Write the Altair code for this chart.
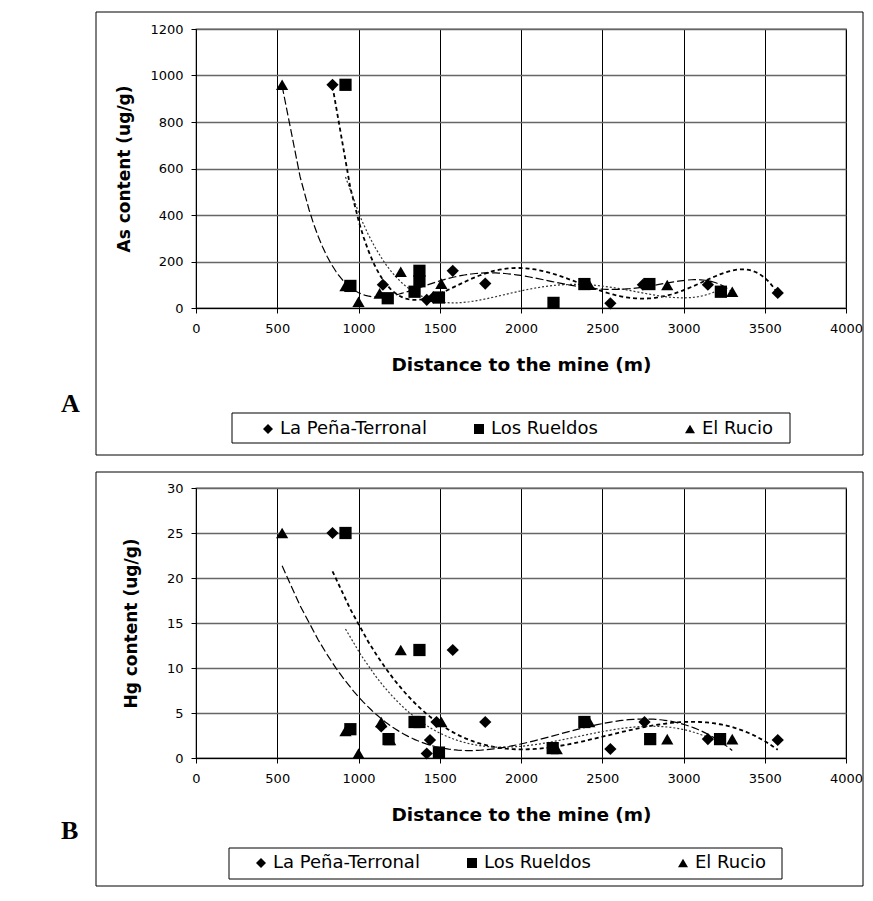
import altair as alt
import pandas as pd

SERIES = ["La Peña-Terronal", "Los Rueldos", "El Rucio"]
SHAPES = ["diamond", "square", "triangle-up"]
X_TICKS = [0, 500, 1000, 1500, 2000, 2500, 3000, 3500, 4000]
A_TICKS = [0, 200, 400, 600, 800, 1000, 1200]
B_TICKS = [0, 5, 10, 15, 20, 25, 30]

# Panel A: As content (ug/g)
A_pt_x = [840, 1150, 1420, 1460, 1580, 1780, 2550, 2750, 3150, 3580]
A_pt_y = [960, 100, 35, 45, 160, 105, 20, 100, 100, 65]
A_lr_x = [920, 950, 1180, 1345, 1375, 1375, 1495, 2200, 2390, 2790, 3230]
A_lr_y = [960, 95, 42, 70, 160, 115, 45, 22, 103, 103, 70]
A_er_x = [530, 920, 1000, 1130, 1260, 1460, 1510, 2420, 2900, 3300]
A_er_y = [960, 95, 27, 63, 156, 50, 105, 100, 99, 70]

# Panel B: Hg content (ug/g)
B_pt_x = [840, 1140, 1420, 1440, 1480, 1580, 1780, 2550, 2760, 3150, 3580]
B_pt_y = [25, 3.5, 0.5, 2, 4, 12, 4, 1, 4, 2.1, 2]
B_lr_x = [920, 950, 1185, 1345, 1375, 1375, 1495, 2195, 2390, 2795, 3225]
B_lr_y = [25, 3.2, 2.1, 4, 12, 4, 0.6, 1.1, 4, 2.1, 2.1]
B_er_x = [530, 920, 1000, 1140, 1195, 1260, 1510, 2220, 2420, 2900, 3300]
B_er_y = [25, 3, 0.5, 4, 2, 12, 4, 1, 4, 2.1, 2.1]

# polynomial trend-line order per series
A_ORDERS = [5, 4, 5]
B_ORDERS = [3, 3, 3]

DASHES = [[4, 3], [2, 2], [8, 3]]
DASH_W = [1.8, 1.2, 1.2]
DASH_C = ["black", "#333333", "black"]


def make_df(groups):
    rows = []
    for name, xs, ys in groups:
        for x, y in zip(xs, ys):
            rows.append({"series": name, "x": x, "y": y})
    return pd.DataFrame(rows)


dfA = make_df([(SERIES[0], A_pt_x, A_pt_y), (SERIES[1], A_lr_x, A_lr_y), (SERIES[2], A_er_x, A_er_y)])
dfB = make_df([(SERIES[0], B_pt_x, B_pt_y), (SERIES[1], B_lr_x, B_lr_y), (SERIES[2], B_er_x, B_er_y)])

FONT = "DejaVu Sans"


def panel(df, ytitle, yticks, orders, w, h, legx, legy, legbox, frame, letter, letter_pos, title_pad):
    ymax = yticks[-1]
    xenc = alt.X("x:Q", scale=alt.Scale(domain=[0, 4000], nice=False),
                 axis=alt.Axis(values=X_TICKS, title="Distance to the mine (m)", grid=True,
                               gridColor="black", gridOpacity=1, tickColor="black", tickSize=5,
                               domainColor="black", labelFont=FONT, labelFontSize=13,
                               labelColor="black", labelPadding=9.6, titleFont=FONT,
                               titleFontSize=18.5, titleFontWeight="bold", titleColor="black",
                               titlePadding=20, format="d", labelFlush=False))
    yenc = alt.Y("y:Q", scale=alt.Scale(domain=[0, ymax], nice=False),
                 axis=alt.Axis(values=yticks, title=ytitle, grid=True, gridColor="#666666",
                               gridOpacity=1, gridWidth=1.3, tickColor="black", tickSize=5,
                               domainColor="black", labelFont=FONT, labelFontSize=13,
                               labelColor="black", labelPadding=8, titleFont=FONT,
                               titleFontSize=17, titleFontWeight="bold", titleColor="black",
                               titlePadding=title_pad, format="d", labelFlush=False))
    points = alt.Chart(df).mark_point(filled=True, color="black", opacity=1, size=150).encode(
        x=xenc, y=yenc,
        shape=alt.Shape("series:N", scale=alt.Scale(domain=SERIES, range=SHAPES),
                        legend=alt.Legend(orient="none", legendX=legx, legendY=legy,
                                          direction="horizontal", title=None, padding=0,
                                          gridAlign="all", columnPadding=43, labelFont=FONT,
                                          labelFontSize=18, labelColor="black", symbolSize=100,
                                          symbolFillColor="black", symbolStrokeColor="black",
                                          symbolOpacity=1, labelOffset=3)),
    )
    line_layers = []
    for s, o, d, lw, lc in zip(SERIES, orders, DASHES, DASH_W, DASH_C):
        ln = alt.Chart(df).transform_filter(alt.datum.series == s).transform_calculate(
            xk="datum.x/1000"
        ).transform_regression("xk", "y", method="poly", order=o).transform_calculate(
            xm="datum.xk*1000"
        ).mark_line(color=lc, strokeWidth=lw, strokeDash=d, clip=True).encode(
            x="xm:Q", y="y:Q")
        line_layers.append(ln)
    one = alt.Chart(alt.Data(values=[{"k": 1}]))
    box = one.mark_rect(fill="white", fillOpacity=0, stroke="black", strokeWidth=1).encode(
        x=alt.value(frame[0]), x2=alt.value(frame[1]), y=alt.value(frame[2]), y2=alt.value(frame[3]))
    lbox = one.mark_rect(fill="white", stroke="black", strokeWidth=1).encode(
        x=alt.value(legbox[0]), x2=alt.value(legbox[1]), y=alt.value(legbox[2]), y2=alt.value(legbox[3]))
    lab = one.mark_text(text=letter, font="Liberation Serif", fontWeight="bold", fontSize=26,
                        color="black", align="left", baseline="middle").encode(
        x=alt.value(letter_pos[0]), y=alt.value(letter_pos[1]))
    return alt.layer(box, lbox, *line_layers, points, lab).properties(width=w, height=h)


pA = panel(dfA, "As content (ug/g)", A_TICKS, A_ORDERS, 650, 279, 63, 391,
           (36, 594, 384, 414), (-100, 667, -17, 426), "A", (-135, 375), 16.5)
pB = panel(dfB, "Hg content (ug/g)", B_TICKS, B_ORDERS, 650, 270, 56, 366,
           (33, 586, 360, 391), (-100, 667, -16, 398), "B", (-135, 343), 26)

chart = alt.concat(pA, pB, columns=1, spacing=13, align="none").resolve_scale(
    shape="independent", x="independent", y="independent"
).properties(
    padding={"left": 52, "top": 2, "right": 0, "bottom": 0}
).configure(background="white").configure_view(stroke="#666666", strokeWidth=1.3)

chart.save("out.html", embed_options={"renderer": "svg", "actions": False})
